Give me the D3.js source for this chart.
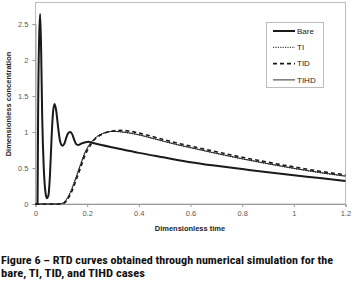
<!DOCTYPE html>
<html>
<head>
<meta charset="utf-8">
<script src="https://cdn.jsdelivr.net/npm/d3@7"></script>
<style>
  body { margin: 0; background: #fff; }
  svg text { font-family: "Liberation Sans", Arial, sans-serif; }
</style>
</head>
<body>
<svg id="chart" width="361" height="284"></svg>
<script>
// Bare case, sampled finely near the start
const bareTime = [0, 0.008, 0.010, 0.014, 0.018, 0.022, 0.026, 0.032, 0.038, 0.044, 0.050, 0.056, 0.062, 0.068, 0.074,
  0.080, 0.088, 0.096, 0.104, 0.112, 0.120, 0.128, 0.135, 0.142, 0.150, 0.158, 0.166, 0.175, 0.190, 0.205, 0.22,
  0.26, 0.3, 0.4, 0.5, 0.6, 0.7, 0.8, 0.9, 1.0, 1.1, 1.2];
const bareValues = [0, 0, 1.2, 2.3, 2.64, 2.1, 1.2, 0.5, 0.18, 0.08, 0.12, 0.4, 0.9, 1.28, 1.39,
  1.3, 1.05, 0.86, 0.81, 0.84, 0.93, 0.99, 1.0, 0.97, 0.89, 0.83, 0.82, 0.835, 0.855, 0.865, 0.85,
  0.815, 0.785, 0.71, 0.645, 0.58, 0.53, 0.485, 0.44, 0.40, 0.36, 0.32];

// TI, TID, TIHD cases
const time = [0, 0.09, 0.10, 0.11, 0.12, 0.13, 0.14, 0.15, 0.16, 0.17, 0.18, 0.19, 0.20, 0.21, 0.22, 0.24, 0.26,
  0.28, 0.30, 0.33, 0.36, 0.40, 0.45, 0.5, 0.55, 0.6, 0.7, 0.8, 0.9, 1.0, 1.1, 1.2];
const tiValues = [0, 0, 0.005, 0.025, 0.07, 0.135, 0.215, 0.31, 0.41, 0.515, 0.615, 0.71, 0.78, 0.835, 0.88, 0.945, 0.98,
  1.0, 1.008, 1.0, 0.985, 0.958, 0.912, 0.865, 0.82, 0.78, 0.7, 0.625, 0.556, 0.492, 0.434, 0.384];
const tidValues = [0, 0, 0, 0.01, 0.04, 0.1, 0.17, 0.26, 0.36, 0.46, 0.56, 0.66, 0.74, 0.80, 0.86, 0.93, 0.975,
  1.0, 1.015, 1.022, 1.014, 0.985, 0.94, 0.89, 0.845, 0.805, 0.725, 0.65, 0.58, 0.515, 0.455, 0.405];
const tihdValues = [0, 0, 0.005, 0.02, 0.06, 0.12, 0.2, 0.295, 0.395, 0.5, 0.6, 0.7, 0.77, 0.83, 0.875, 0.94, 0.978,
  1.0, 1.01, 1.004, 0.99, 0.962, 0.917, 0.869, 0.824, 0.784, 0.704, 0.629, 0.56, 0.496, 0.438, 0.388];

const xTicks = [0, 0.2, 0.4, 0.6, 0.8, 1, 1.2];
const yTicks = [0, 0.5, 1, 1.5, 2, 2.5];

const series = [
  { name: "Bare", t: bareTime, v: bareValues, width: 2, dash: null, color: "#1a1a1a" },
  { name: "TI", t: time, v: tiValues, width: 1, dash: "1.2,1.2", color: "#1a1a1a" },
  { name: "TID", t: time, v: tidValues, width: 1.6, dash: "4,3", color: "#1a1a1a" },
  { name: "TIHD", t: time, v: tihdValues, width: 0.9, dash: null, color: "#1a1a1a" }
];

const svg = d3.select("#chart");
const plot = { left: 35.5, right: 345.5, top: 2.5, bottom: 204 };

const x = d3.scaleLinear().domain([0, 1.2]).range([plot.left, plot.right]);
const y = d3.scaleLinear().domain([0, 2.5]).range([plot.bottom, 24]);

// plot frame
svg.append("rect")
  .attr("x", plot.left).attr("y", plot.top)
  .attr("width", plot.right - plot.left).attr("height", plot.bottom - plot.top)
  .attr("fill", "none").attr("stroke", "#bdbdbd").attr("stroke-width", 1);

// axes
const xAxis = svg.append("g")
  .attr("transform", `translate(0,${plot.bottom})`)
  .call(d3.axisBottom(x).tickValues(xTicks).tickSize(3).tickPadding(4).tickFormat(d3.format("")));
const yAxis = svg.append("g")
  .attr("transform", `translate(${plot.left},0)`)
  .call(d3.axisLeft(y).tickValues(yTicks).tickSize(3).tickPadding(4).tickFormat(d3.format("")));

[xAxis, yAxis].forEach(g => {
  g.select(".domain").attr("stroke", "#9a9a9a");
  g.selectAll(".tick line").attr("stroke", "#9a9a9a");
  g.selectAll(".tick text").attr("fill", "#595959").style("font-size", "7.5px");
});

// curves
const line = d3.line()
  .x(d => x(d[0]))
  .y(d => y(d[1]))
  .curve(d3.curveMonotoneX);

series.slice().reverse().forEach(s => {
  svg.append("path")
    .datum(s.t.map((t, i) => [t, s.v[i]]))
    .attr("d", line)
    .attr("fill", "none")
    .attr("stroke", s.color)
    .attr("stroke-width", s.width)
    .attr("stroke-dasharray", s.dash)
    .attr("stroke-linejoin", "round");
});

// legend
const legend = svg.append("g");
legend.append("rect")
  .attr("x", 266.5).attr("y", 22.5).attr("width", 57).attr("height", 65)
  .attr("fill", "#fff").attr("stroke", "#bdbdbd");
series.forEach((s, i) => {
  const ly = 31 + i * 16.3;
  legend.append("line")
    .attr("x1", 273).attr("x2", 295).attr("y1", ly).attr("y2", ly)
    .attr("stroke", s.color).attr("stroke-width", s.width)
    .attr("stroke-dasharray", s.dash);
  legend.append("text")
    .attr("x", 297).attr("y", ly + 2.8)
    .style("font-size", "8px").attr("fill", "#222")
    .text(s.name);
});

// axis titles
svg.append("text")
  .attr("x", 190).attr("y", 231)
  .attr("text-anchor", "middle")
  .style("font-size", "7.5px").style("font-weight", "bold").attr("fill", "#222")
  .text("Dimensionless time");

svg.append("text")
  .attr("transform", "translate(10.5,104) rotate(-90)")
  .attr("text-anchor", "middle")
  .style("font-size", "7.5px").style("font-weight", "bold").attr("fill", "#222")
  .text("Dimensionless concentration");

// caption
const caption = svg.append("text")
  .style("font-family", "'Liberation Sans Narrow', 'Roboto Condensed', Arial, sans-serif")
  .style("font-size", "11.5px").style("font-weight", "bold").attr("fill", "#111");
caption.append("tspan").attr("x", 1).attr("y", 264)
  .attr("textLength", 332).attr("lengthAdjust", "spacingAndGlyphs")
  .text("Figure 6 – RTD curves obtained through numerical simulation for the");
caption.append("tspan").attr("x", 1).attr("y", 277)
  .attr("textLength", 144).attr("lengthAdjust", "spacingAndGlyphs")
  .text("bare, TI, TID, and TIHD cases");
</script>
</body>
</html>
